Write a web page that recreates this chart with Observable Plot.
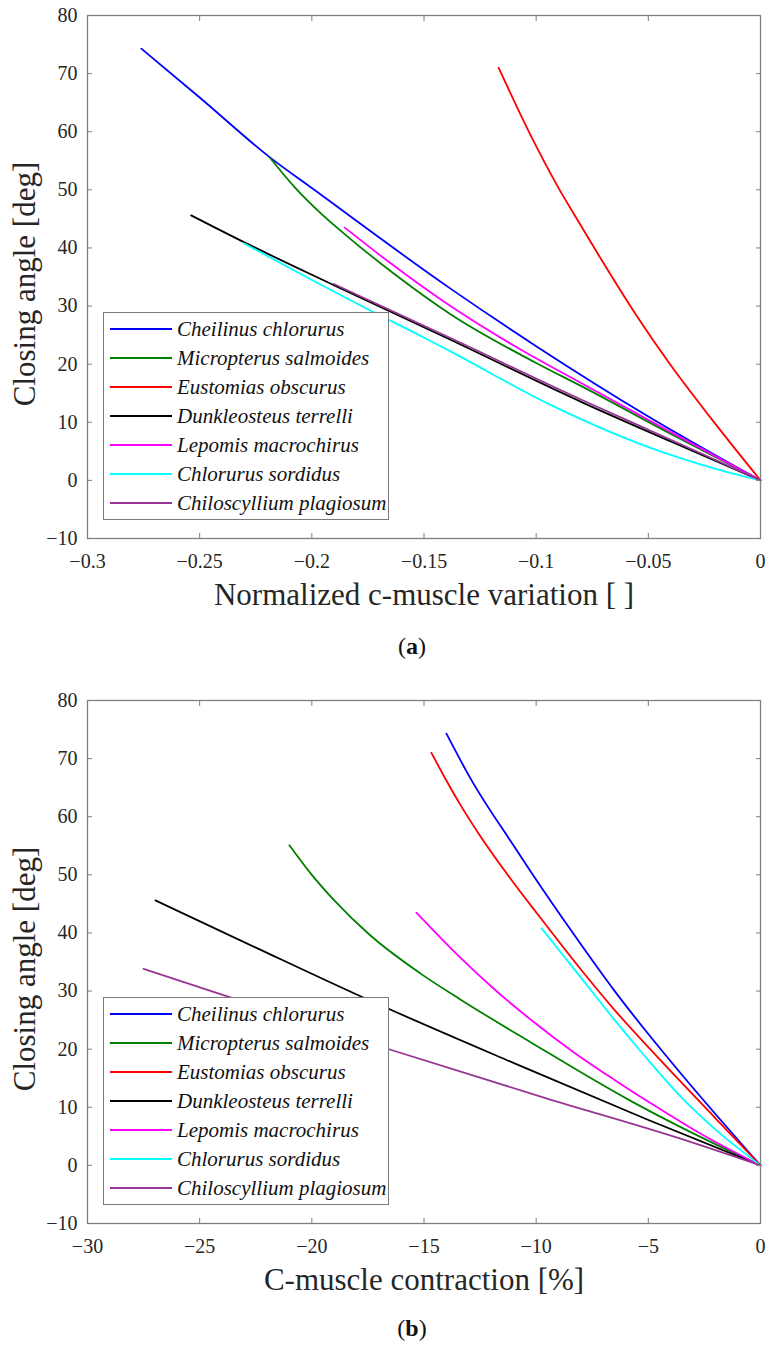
<!DOCTYPE html>
<html>
<head>
<meta charset="utf-8">
<script src="https://cdn.jsdelivr.net/npm/d3@7"></script>
<script src="https://cdn.jsdelivr.net/npm/@observablehq/plot@0.6"></script>
<style>
  body { margin: 0; background: #fff; }
  #fig { position: relative; width: 772px; height: 1348px; font-family: "Liberation Serif", serif; color: #262626; }
  .panel { position: absolute; left: 0; }
  .legend { position: absolute; left: 103px; width: 286px; height: 208px; background: #fff;
            border: 1.3px solid #7a7a7a; box-sizing: border-box; padding-top: 2px; }
  .legend .row { position: relative; height: 29px; }
  .legend .swatch { position: absolute; left: 6px; top: 13px; width: 62px; height: 2.2px; }
  .legend .name { position: absolute; left: 73px; top: 1px; font-family: "Liberation Serif", serif; font-style: italic; font-size: 21px; line-height: 26px; color: #111; white-space: nowrap; }
  .caption { position: absolute; left: 0; width: 824px; text-align: center; font-family: "Liberation Serif", serif; font-size: 24px; color: #111; }
</style>
</head>
<body>
<div id="fig"></div>
<script>
// Species, in legend order, and their line colours
const species = [
  "Cheilinus chlorurus",
  "Micropterus salmoides",
  "Eustomias obscurus",
  "Dunkleosteus terrelli",
  "Lepomis macrochirus",
  "Chlorurus sordidus",
  "Chiloscyllium plagiosum"
];
const colors = ["#0000ff", "#008000", "#ff0000", "#000000", "#ff00ff", "#00ffff", "#973597"];

// (a) closing angle [deg] vs normalized c-muscle variation: [variation, angle]
const cheilinusA    = [[-0.276, 74.3], [-0.25, 65.9], [-0.2184, 55.5], [-0.2, 50.3], [-0.1382, 33.0], [-0.1, 23.1], [-0.05, 11.0], [0, 0]];
const micropterusA  = [[-0.2184, 55.4], [-0.2073, 50.3], [-0.195, 45.6], [-0.1842, 42.0], [-0.1635, 35.6], [-0.1382, 28.6], [-0.1, 20.2], [-0.0788, 16.0], [-0.04, 8.0], [0, 0]];
const eustomiasA    = [[-0.1167, 71.0], [-0.1025, 59.4], [-0.09, 50.3], [-0.0817, 44.9], [-0.07, 37.4], [-0.055, 28.2], [-0.04, 19.8], [-0.0223, 10.8], [0, 0]];
const dunkleosteusA = [[-0.2538, 45.6], [-0.2303, 41.0], [-0.1902, 33.6], [-0.1382, 24.2], [-0.0788, 13.3], [-0.04, 6.7], [0, 0]];
const lepomisA      = [[-0.1853, 43.5], [-0.165, 37.4], [-0.1382, 30.0], [-0.11, 23.2], [-0.0788, 16.5], [-0.04, 8.3], [0, 0]];
const chlorurusA    = [[-0.2303, 40.8], [-0.2006, 34.6], [-0.1753, 29.5], [-0.1486, 24.3], [-0.1382, 22.2], [-0.0936, 13.0], [-0.049, 5.6], [-0.02, 2.0], [0, 0]];
const chiloscylliumA = [[-0.1902, 33.8], [-0.1382, 24.5], [-0.0788, 13.7], [-0.04, 7.0], [0, 0]];

// (b) closing angle [deg] vs c-muscle contraction [%]: [contraction, angle]
const cheilinusB    = [[-14.0, 74.3], [-12.93, 66.6], [-11.0, 55.0], [-9.66, 47.2], [-8.0, 38.0], [-6.54, 30.2], [-5.0, 22.6], [-3.57, 15.9], [-2.0, 8.8], [0, 0]];
const micropterusB  = [[-21.0, 55.1], [-20.0, 50.0], [-19.0, 45.6], [-17.4, 39.6], [-15.15, 33.0], [-13.4, 28.6], [-10.25, 21.2], [-5.79, 11.1], [-3.0, 5.5], [0, 0]];
const eustomiasB    = [[-14.67, 71.0], [-14.04, 66.5], [-13.37, 62.0], [-12.48, 56.6], [-11.0, 48.6], [-9.95, 43.3], [-7.88, 33.1], [-6.54, 26.9], [-4.46, 18.1], [-2.08, 8.4], [0, 0]];
const dunkleosteusB = [[-26.97, 45.6], [-22.4, 37.3], [-17.83, 29.1], [-10.99, 17.6], [-5.05, 7.9], [0, 0]];
const lepomisB      = [[-15.34, 43.5], [-13.37, 35.7], [-11.8, 30.1], [-10.25, 25.1], [-8.3, 19.4], [-6.54, 14.8], [-4.6, 10.0], [-2.82, 5.8], [0, 0]];
const chlorurusB    = [[-9.76, 40.8], [-8.02, 32.4], [-6.5, 25.0], [-5.2, 19.0], [-3.5, 11.6], [-2.08, 6.4], [0, 0]];
const chiloscylliumB = [[-27.5, 33.8], [-23.77, 29.1], [-16.49, 19.9], [-9.51, 11.5], [-3.57, 4.6], [0, 0]];

// Axis ticks and their labels
const yTicks = [-10, 0, 10, 20, 30, 40, 50, 60, 70, 80];
const yTickLabels = ["\u221210", "0", "10", "20", "30", "40", "50", "60", "70", "80"];
const xTicksA = [-0.3, -0.25, -0.2, -0.15, -0.1, -0.05, 0];
const xTickLabelsA = ["\u22120.3", "\u22120.25", "\u22120.2", "\u22120.15", "\u22120.1", "\u22120.05", "0"];
const xTicksB = [-30, -25, -20, -15, -10, -5, 0];
const xTickLabelsB = ["\u221230", "\u221225", "\u221220", "\u221215", "\u221210", "\u22125", "0"];

const yLabel = "Closing angle [deg]";
const xLabelA = "Normalized c-muscle variation [ ]";
const xLabelB = "C-muscle contraction [%]";

function drawPanel({series, xDomain, xTicks, xTickLabels, xLabel}) {
  const lookup = (ticks, labels) => d => labels[ticks.indexOf(d)] ?? "";
  const frameGray = "#7f7f7f";
  return Plot.plot({
    width: 772,
    height: 620,
    marginTop: 15,
    marginLeft: 87,
    marginRight: 12,
    marginBottom: 82,
    style: {fontFamily: '"Liberation Serif", serif', fontSize: "20px", color: "#262626", background: "transparent", overflow: "visible"},
    x: {domain: xDomain, axis: null},
    y: {domain: [-10, 80], axis: null},
    marks: [
      ...series.map((pts, i) => Plot.line(pts, {
        x: d => d[0], y: d => d[1],
        stroke: colors[i], strokeWidth: 1.8, curve: "monotone-x"
      })),
      Plot.frame({stroke: frameGray, strokeWidth: 1.3}),
      Plot.axisX(xTicks, {anchor: "bottom", tickSize: -5, tickPadding: 20, stroke: frameGray,
        tickFormat: lookup(xTicks, xTickLabels), fontSize: 20, label: null}),
      Plot.axisX(xTicks, {anchor: "top", tickSize: -5, stroke: frameGray, tickFormat: () => "", label: null}),
      Plot.axisY(yTicks, {anchor: "left", tickSize: -5, tickPadding: 15, stroke: frameGray,
        tickFormat: lookup(yTicks, yTickLabels), fontSize: 20, label: null}),
      Plot.axisY(yTicks, {anchor: "right", tickSize: -5, stroke: frameGray, tickFormat: () => "", label: null}),
      Plot.text([xLabel], {frameAnchor: "bottom", textAnchor: "middle", dy: 57, fontSize: 31, lineAnchor: "middle", fill: "#262626"}),
      Plot.text([yLabel], {frameAnchor: "left", textAnchor: "middle", rotate: -90, dx: -62.5, dy: 7, fontSize: 31, lineAnchor: "middle", fill: "#262626"})
    ]
  });
}

function legendBox(top) {
  const box = document.createElement("div");
  box.className = "legend";
  box.style.top = top + "px";
  species.forEach((name, i) => {
    const row = document.createElement("div");
    row.className = "row";
    const sw = document.createElement("div");
    sw.className = "swatch";
    sw.style.background = colors[i];
    const label = document.createElement("div");
    label.className = "name";
    label.textContent = name;
    row.append(sw, label);
    box.append(row);
  });
  return box;
}

function caption(letter, top) {
  const c = document.createElement("div");
  c.className = "caption";
  c.style.top = top + "px";
  c.innerHTML = "(<b>" + letter + "</b>)";
  return c;
}

const fig = document.getElementById("fig");

const panelA = drawPanel({
  series: [cheilinusA, micropterusA, eustomiasA, dunkleosteusA, lepomisA, chlorurusA, chiloscylliumA],
  xDomain: [-0.3, 0], xTicks: xTicksA, xTickLabels: xTickLabelsA, xLabel: xLabelA
});
panelA.classList.add("panel");
panelA.style.top = "0px";

const panelB = drawPanel({
  series: [cheilinusB, micropterusB, eustomiasB, dunkleosteusB, lepomisB, chlorurusB, chiloscylliumB],
  xDomain: [-30, 0], xTicks: xTicksB, xTickLabels: xTickLabelsB, xLabel: xLabelB
});
panelB.classList.add("panel");
panelB.style.top = "685px";

fig.append(panelA, legendBox(312), caption("a", 633), panelB, legendBox(997), caption("b", 1315));
</script>
</body>
</html>
